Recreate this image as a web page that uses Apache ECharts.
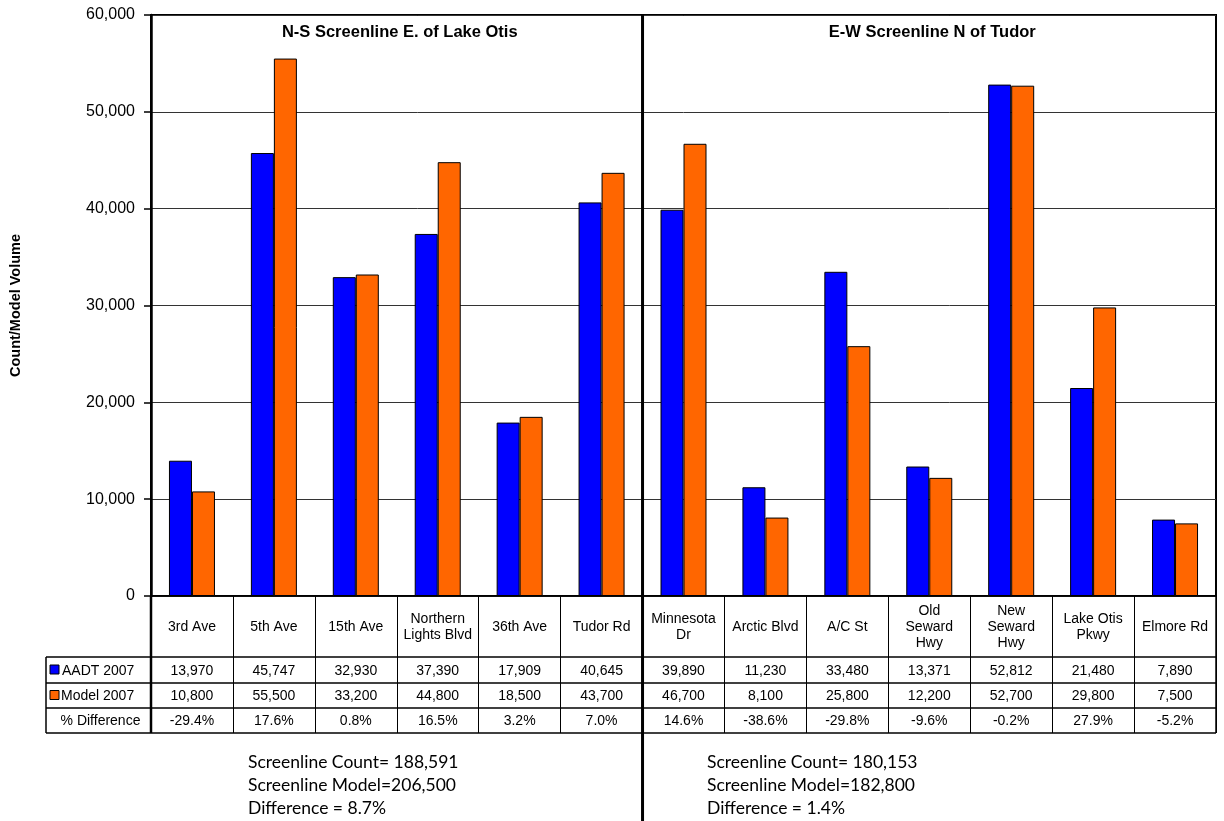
<!DOCTYPE html>
<html>
<head>
<meta charset="utf-8">
<script src="https://cdn.jsdelivr.net/npm/echarts@6/dist/echarts.min.js"></script>
<style>
  html, body { margin: 0; padding: 0; background: #fff; }
  #main { width: 1224px; height: 821px; }
</style>
</head>
<body>
<div id="main"></div>
<script>
// Screenline locations (first six: N-S screenline, remaining seven: E-W screenline)
const categories = ['3rd Ave', '5th Ave', '15th Ave', 'Northern\nLights Blvd', '36th Ave', 'Tudor Rd',
  'Minnesota\nDr', 'Arctic Blvd', 'A/C St', 'Old\nSeward\nHwy', 'New\nSeward\nHwy', 'Lake Otis\nPkwy', 'Elmore Rd'];
const aadt2007 = [13970, 45747, 32930, 37390, 17909, 40645, 39890, 11230, 33480, 13371, 52812, 21480, 7890];
const model2007 = [10800, 55500, 33200, 44800, 18500, 43700, 46700, 8100, 25800, 12200, 52700, 29800, 7500];
const screenlineTitles = ['N-S Screenline E. of Lake Otis', 'E-W Screenline N of Tudor'];
const screenlineSizes = [6, 7];
const yTicks = [0, 10000, 20000, 30000, 40000, 50000, 60000];

const BLUE = '#0000FF';
const ORANGE = '#FF6600';
const fmt = v => v.toLocaleString('en-US');
const pct = (count, model) => ((model - count) / model * 100).toFixed(1) + '%';

const chart = echarts.init(document.getElementById('main'));

chart.setOption({
  animation: false,
  grid: { left: 150, right: 8, top: 15, bottom: 225, containLabel: false,
          show: true, borderColor: '#000', borderWidth: 2 },
  xAxis: {
    type: 'category',
    data: categories,
    axisLine: { lineStyle: { color: '#000', width: 1.5 } },
    axisTick: { show: true, interval: 0, length: 137, lineStyle: { color: '#000', width: 1 } },
    axisLabel: { interval: 0, margin: 31, verticalAlign: 'middle', lineHeight: 16,
                 fontFamily: 'Liberation Sans', fontSize: 14, color: '#000' }
  },
  yAxis: {
    type: 'value',
    min: yTicks[0], max: yTicks[yTicks.length - 1], interval: yTicks[1] - yTicks[0],
    name: 'Count/Model Volume',
    nameLocation: 'middle', nameGap: 128, nameRotate: 90,
    nameTextStyle: { fontFamily: 'Liberation Sans', fontWeight: 'bold', fontSize: 14.5, color: '#000' },
    axisLine: { show: true, lineStyle: { color: '#000', width: 2.5 } },
    axisTick: { show: true, length: 7, lineStyle: { color: '#000', width: 1.5 } },
    axisLabel: { formatter: v => fmt(v), margin: 16, fontFamily: 'Liberation Sans', fontSize: 16, color: '#000' },
    splitLine: { lineStyle: { color: '#333', width: 1 } }
  },
  series: [
    { name: 'AADT 2007', type: 'bar', data: aadt2007, barWidth: 23, barGap: '0%',
      itemStyle: { color: BLUE, borderColor: '#000', borderWidth: 1 } },
    { name: 'Model 2007', type: 'bar', data: model2007, barWidth: 23, barGap: '0%',
      itemStyle: { color: ORANGE, borderColor: '#000', borderWidth: 1 } }
  ]
});

// Data table, panel titles, divider and screenline totals drawn from the axis geometry
const cx = i => chart.convertToPixel({ xAxisIndex: 0 }, i);
const band = cx(1) - cx(0);
const edge = i => cx(0) - band / 2 + i * band;
const zeroY = chart.convertToPixel({ yAxisIndex: 0 }, 0);
const topY = chart.convertToPixel({ yAxisIndex: 0 }, yTicks[yTicks.length - 1]);
const leftX = edge(0), rightX = edge(categories.length);
const tableLeft = 46;
const rowY = [zeroY + 61, zeroY + 87, zeroY + 112, zeroY + 137];
const tableFont = '14px "Liberation Sans"';

const els = [];
const line = (x1, y1, x2, y2, w) => els.push({ type: 'line', z: 10,
  shape: { x1, y1, x2, y2 }, style: { stroke: '#000', lineWidth: w } });
const text = (x, y, t, font, align) => els.push({ type: 'text', z: 11, x, y,
  style: { text: t, font, fill: '#000', align: align || 'center', verticalAlign: 'middle' } });

// table grid
rowY.forEach(y => line(tableLeft, y, rightX, y, 1.5));
line(tableLeft, rowY[0], tableLeft, rowY[3], 1.5);
line(leftX, zeroY, leftX, rowY[3], 2.5);
line(rightX, zeroY, rightX, rowY[3], 1.5);

// row headers with legend keys
const keyRow = (row, color, label, dx) => {
  const yc = (rowY[row] + rowY[row + 1]) / 2;
  els.push({ type: 'rect', z: 11, shape: { x: 50, y: yc - 5, width: 9, height: 9 },
             style: { fill: color, stroke: '#000', lineWidth: 1 } });
  text(61 + dx, yc + 1, label, tableFont, 'left');
};
keyRow(0, BLUE, 'AADT 2007', 1);
keyRow(1, ORANGE, 'Model 2007', 0);
text((tableLeft + leftX) / 2 + 2, (rowY[2] + rowY[3]) / 2 + 1, '% Difference', tableFont);

// table values
categories.forEach((c, i) => {
  const x = cx(i);
  text(x, (rowY[0] + rowY[1]) / 2 + 1, fmt(aadt2007[i]), tableFont);
  text(x, (rowY[1] + rowY[2]) / 2 + 1, fmt(model2007[i]), tableFont);
  text(x, (rowY[2] + rowY[3]) / 2 + 1, pct(aadt2007[i], model2007[i]), tableFont);
});

// screenline panels: titles, divider, totals
let start = 0;
const blockX = [248, 707];
screenlineSizes.forEach((n, k) => {
  const end = start + n;
  const midX = (edge(start) + edge(end)) / 2;
  text(midX + 3, topY + 17, screenlineTitles[k], 'bold 16.5px "Liberation Sans"');
  if (end < categories.length) line(edge(end), topY, edge(end), 821, 3);
  const sumCount = aadt2007.slice(start, end).reduce((a, b) => a + b, 0);
  const sumModel = model2007.slice(start, end).reduce((a, b) => a + b, 0);
  const f = '17.5px Lato';
  text(blockX[k], zeroY + 166, 'Screenline Count= ' + fmt(sumCount), f, 'left');
  text(blockX[k], zeroY + 189, 'Screenline Model=' + fmt(sumModel), f, 'left');
  text(blockX[k], zeroY + 212, 'Difference = ' + pct(sumCount, sumModel), f, 'left');
  start = end;
});

chart.setOption({ graphic: { elements: els } });
</script>
</body>
</html>
